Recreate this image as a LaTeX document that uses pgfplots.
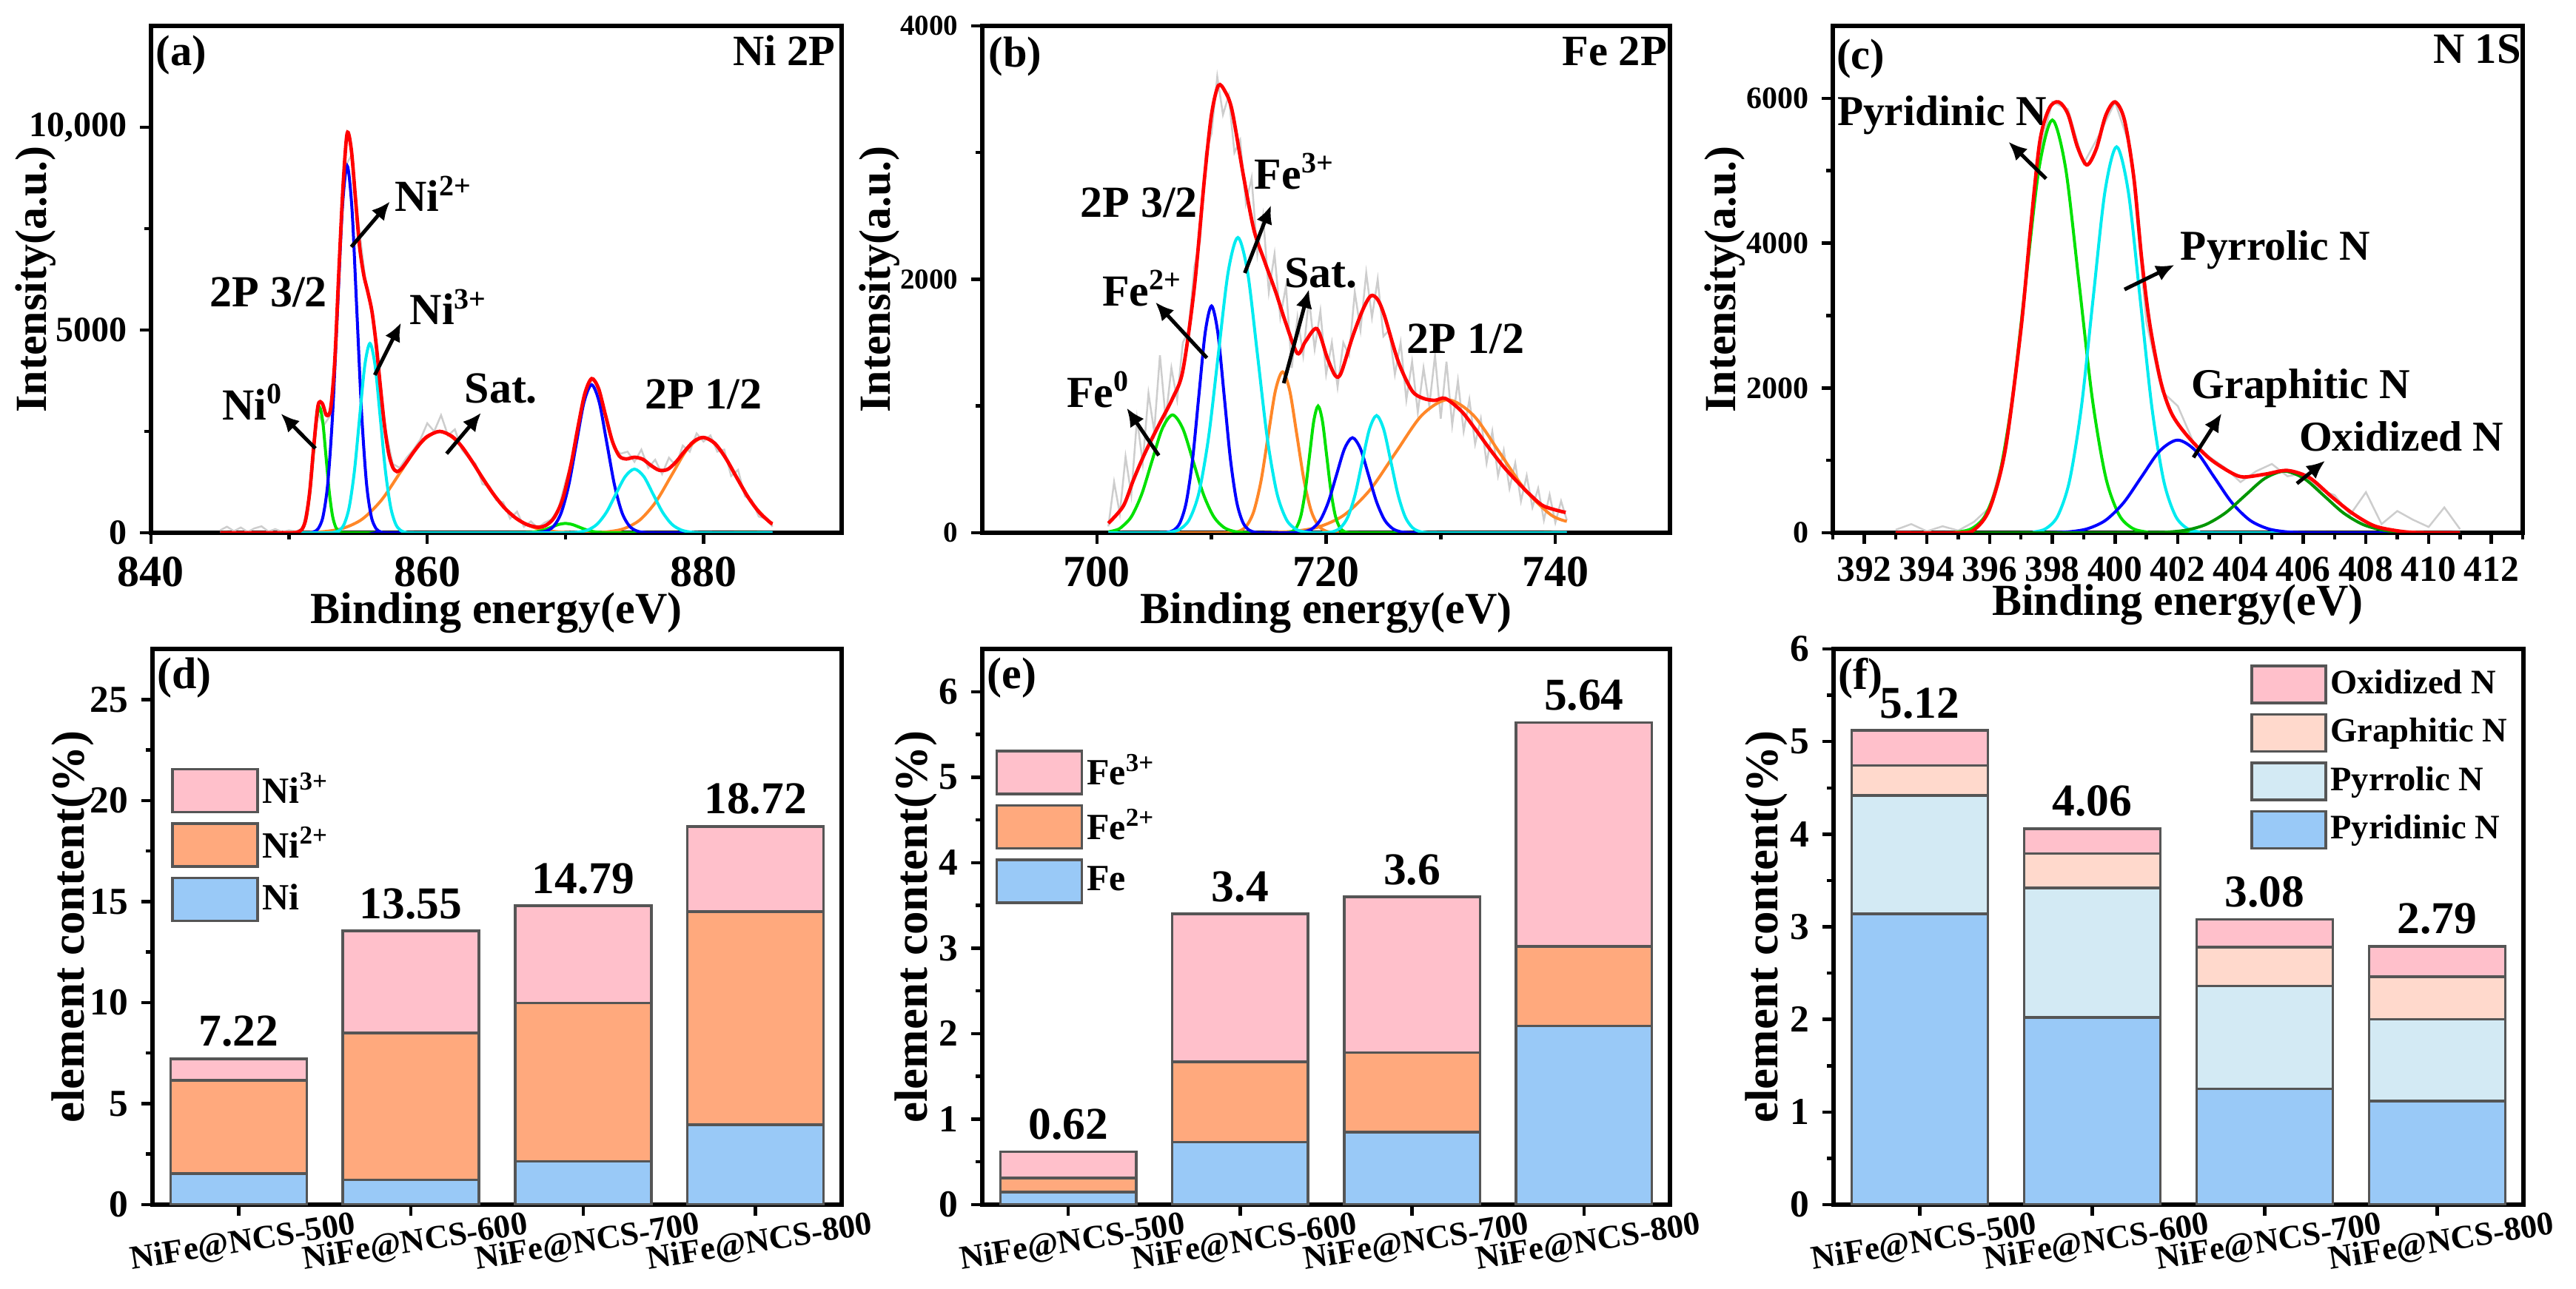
\documentclass[border=0pt]{standalone}
\usepackage{fontspec}
\setmainfont{Liberation Serif}
\usepackage{pgfplots}
\pgfplotsset{compat=1.18}
\usetikzlibrary{arrows.meta}
\definecolor{pR}{RGB}{255,0,0}
\definecolor{pB}{RGB}{0,0,255}
\definecolor{pC}{RGB}{0,235,240}
\definecolor{pG}{RGB}{0,225,0}
\definecolor{pO}{RGB}{255,135,40}
\definecolor{pDG}{RGB}{0,150,0}
\definecolor{pGray}{RGB}{205,205,205}
\definecolor{bBlue}{RGB}{153,201,247}
\definecolor{bOrange}{RGB}{255,169,125}
\definecolor{bPink}{RGB}{255,192,203}
\definecolor{bCyan}{RGB}{211,234,244}
\definecolor{bPeach}{RGB}{255,217,204}
\definecolor{bEdge}{RGB}{85,85,85}
\newcommand{\fs}[1]{\bfseries\fontsize{#1}{#1}\selectfont}
\newcommand{\ann}[4][12]{\node[anchor=base west,inner sep=0pt,font=\fs{#1}] at (axis cs:#2,#3) {#4};}
\newcommand{\annE}[4][12]{\node[anchor=base east,inner sep=0pt,font=\fs{#1}] at (axis cs:#2,#3) {#4};}
\newcommand{\arr}[4]{\draw[-{Latex[length=5pt,width=4.5pt]},line width=1pt] (axis cs:#1,#2) -- (axis cs:#3,#4);}
\pgfplotsset{
  base/.style={scale only axis, anchor=south west,
    axis line style={line width=1.1pt},
    tick align=outside, tick pos=left,
    major tick length=3pt, minor tick length=1.8pt,
    every tick/.style={black,line width=0.9pt},
    scaled ticks=false,
    /pgf/number format/assume math mode=true,
    /pgf/number format/1000 sep={},
    label style={font=\fs{12}}},
  spec/.style={base, height=137pt,
    xlabel={Binding energy(eV)}, ylabel={Intensity(a.u.)},
    xlabel style={at={(axis description cs:0.5,-0.158)},anchor=center},
    xticklabel style={font=\fs{12}}},
  comp/.style={smooth, no marks, line width=0.8pt},
  env/.style={smooth, no marks, line width=0.95pt, pR},
  raw/.style={no marks, line width=0.5pt, pGray},
  bars/.style={base, height=150.2pt, ybar stacked, bar width=0.79,
    xmin=-0.5, xmax=3.5, ymin=0, xtick={0,1,2,3},
    xticklabels={NiFe@NCS-500,NiFe@NCS-600,NiFe@NCS-700,NiFe@NCS-800},
    xticklabel style={rotate=9, anchor=north, font=\fs{9}},
    yticklabel style={font=\fs{10.3}},
    ylabel={element content(\%)}, label style={font=\fs{12.6}},
    every axis plot/.append style={draw=bEdge, line width=0.7pt},
    legend cell align=left, reverse legend,
    legend style={draw=none, fill=none, inner sep=0pt, row sep=2.4pt,
      anchor=north west, nodes={inner sep=1pt}}},
  bigleg/.style={legend style={font=\fs{10}},
    legend image code/.code={\draw[##1,line width=0.7pt] (0pt,-5.8pt) rectangle (23pt,5.8pt);}},
}
\begin{document}
\begin{tikzpicture}
\useasboundingbox (0,0) rectangle (696pt,348.2pt);
%================ (a) Ni 2P
\begin{axis}[spec, at={(40.8pt,204.2pt)}, width=186.6pt,
  xmin=840, xmax=890, ymin=0, ymax=12500,
  xtick={840,860,880}, minor xtick={850,870},
  ytick={0,5000,10000}, yticklabels={0,5000,{10,000}}, minor ytick={2500,7500},
  yticklabel style={font=\fs{9.6}},
  ylabel style={at={(axis description cs:-0.167,0.5)},anchor=center}]
\addplot[raw] coordinates {(845,60)(845.5,150)(846,40)(846.5,130)(847,20)(847.5,110)(848,160)(848.5,30)(849,90)(849.5,20)(850,60)(850.5,30)(851,120)(851.5,1000)(852,3000)(852.5,2650)(853,2900)(853.5,5300)(854,9000)(854.5,9300)(855,7700)(855.5,6300)(856,5500)(856.5,4000)(857,2500)(857.5,1700)(858,1600)(858.5,1850)(859,2050)(859.5,2300)(860,2700)(860.5,2500)(861,2900)(861.5,2400)(862,2550)(862.5,2050)(863,1850)(863.5,1700)(864,1200)(864.5,1150)(865,800)(865.5,750)(866,350)(866.5,520)(867,150)(867.5,280)(868,120)(868.5,250)(869,330)(869.5,600)(870,1250)(870.5,1800)(871,2700)(871.5,3500)(872,3800)(872.5,3450)(873,2800)(873.5,2100)(874,1950)(874.5,2000)(875,1750)(875.5,2050)(876,1600)(876.5,1800)(877,1450)(877.5,1850)(878,1650)(878.5,2150)(879,2000)(879.5,2450)(880,2250)(880.5,2400)(881,2000)(881.5,2050)(882,1400)(882.5,1550)(883,900)(883.5,800)(884,400)(884.5,350)(885,150)};
% orange (Sat.)
\addplot[comp,pO] coordinates {(845,0)(849.5,0)(851.1,5)(852.5,28)(853.9,110)(855.3,338)(856.7,812)(858.1,1516)(859.5,2206)(860.9,2500)(862.3,2206)(863.7,1516)(865.1,812)(866.5,338)(867.9,110)(869.3,28)(870.7,5)(871.95,5)(873.1,26)(874.25,103)(875.4,318)(876.55,763)(877.7,1425)(878.85,2074)(880,2350)(881.15,2074)(882.3,1425)(883.45,763)(884.6,318)(885,222)};
% green (Ni0)
\addplot[comp,pG] coordinates {(845,0)(850.2,0)(850.555,7)(850.79,34)(851.025,136)(851.26,419)(851.495,1007)(851.73,1880)(851.965,2736)(852.2,3100)(852.435,2736)(852.67,1880)(852.905,1007)(853.14,419)(853.375,136)(853.61,34)(853.845,7)(854.2,0)(866.5,0)(867,3)(867.5,10)(868,31)(868.5,75)(869,139)(869.5,203)(870,230)(870.5,203)(871,139)(871.5,75)(872,31)(872.5,10)(873,3)(873.5,0)(885,0)};
% blue (Ni2+)
\addplot[comp,pB] coordinates {(845,0)(851.3,0)(851.75,20)(852.1,100)(852.45,397)(852.8,1224)(853.15,2939)(853.5,5489)(853.85,7987)(854.2,9050)(854.55,7987)(854.9,5489)(855.25,2939)(855.6,1224)(855.95,397)(856.3,100)(856.65,20)(857.1,0)(867.6,0)(868.05,8)(868.6,41)(869.15,160)(869.7,494)(870.25,1185)(870.8,2214)(871.35,3221)(871.9,3650)(872.45,3221)(873,2214)(873.55,1185)(874.1,494)(874.65,160)(875.2,41)(875.75,8)(876.3,0)(885,0)};
% cyan (Ni3+)
\addplot[comp,pC] coordinates {(845,0)(852.8,0)(853.225,10)(853.6,52)(853.975,205)(854.35,632)(854.725,1516)(855.1,2832)(855.475,4121)(855.85,4670)(856.225,4121)(856.6,2832)(856.975,1516)(857.35,632)(857.725,205)(858.1,52)(858.475,10)(858.9,0)(869.7,0)(870.28,3)(870.95,17)(871.63,69)(872.3,212)(872.98,510)(873.65,952)(874.33,1386)(875,1570)(875.68,1386)(876.35,952)(877.03,510)(877.7,212)(878.38,69)(879.05,17)(879.73,3)(880.3,0)(885,0)};
% envelope
\addplot[env] coordinates {(845,0)(849,0)(850,2)(850.5,8)(850.9,71)(851.2,326)(851.5,1036)(851.8,2197)(852.1,3149)(852.4,3188)(852.7,2900)(853,3050)(853.3,4214)(853.6,6443)(853.9,8523)(854.2,9850)(854.5,9450)(854.8,8256)(855.1,7062)(855.4,6365)(855.7,5934)(856,5450)(856.3,4650)(856.6,3622)(856.9,2656)(857.2,1970)(857.5,1616)(857.8,1509)(858.1,1568)(858.5,1742)(859,1985)(859.5,2206)(860,2375)(860.9,2500)(861.8,2375)(862.5,2126)(863.3,1732)(864,1350)(864.8,950)(865.6,610)(866.4,365)(867.2,205)(868,138)(868.6,185)(869.2,380)(869.8,830)(870.4,1670)(870.9,2585)(871.4,3422)(871.9,3801)(872.4,3558)(872.9,2902)(873.4,2257)(873.9,1893)(874.4,1821)(875,1862)(875.6,1813)(876.2,1659)(876.8,1541)(877.4,1563)(878,1743)(878.6,1997)(879.3,2254)(880,2350)(880.8,2211)(881.6,1845)(882.4,1363)(883.2,893)(884,517)(884.8,263)(885,223)};
\ann[11.7]{840.3}{11520}{(a)}
\annE[11.7]{889.6}{11520}{Ni 2P}
\ann{844.2}{5580}{2P 3/2}
\ann{857.6}{7920}{Ni\textsuperscript{2+}}
\ann{858.7}{5130}{Ni\textsuperscript{3+}}
\ann{845.1}{2790}{Ni\textsuperscript{0}}
\ann{862.65}{3200}{Sat.}
\ann{875.7}{3050}{2P 1/2}
\arr{854.5}{7050}{857.3}{8170}
\arr{856.2}{3890}{858.1}{5180}
\arr{851.9}{2080}{849.4}{2940}
\arr{861.4}{1950}{863.9}{2960}
\end{axis}
%================ (b) Fe 2P
\begin{axis}[spec, at={(265.4pt,204.2pt)}, width=185.8pt,
  xmin=690, xmax=750, ymin=0, ymax=4000,
  xtick={700,720,740}, minor xtick={710,730},
  ytick={0,2000,4000}, minor ytick={1000,3000},
  yticklabel style={font=\fs{7.8}},
  ylabel style={at={(axis description cs:-0.150,0.5)},anchor=center}]
\addplot[raw] coordinates {(701,50)(701.5,400)(702,150)(702.5,600)(703,300)(703.5,900)(704,550)(704.5,1100)(705,800)(705.5,1400)(706,900)(706.5,1300)(707,1050)(707.5,1500)(708,1600)(708.5,2100)(709,2300)(709.5,3000)(710,3150)(710.5,3600)(711,3300)(711.5,3450)(712,3000)(712.5,3100)(713,2600)(713.5,2800)(714,2200)(714.5,2500)(715,1900)(715.5,2200)(716,1700)(716.5,1950)(717,1300)(717.5,1700)(718,1400)(718.5,1850)(719,1450)(719.5,1750)(720,1250)(720.5,1500)(721,1150)(721.5,1500)(722,1400)(722.5,1900)(723,1600)(723.5,2050)(724,1700)(724.5,2000)(725,1550)(725.5,1600)(726,1250)(726.5,1500)(727,1050)(727.5,1350)(728,950)(728.5,1300)(729,1000)(729.5,1400)(730,900)(730.5,1350)(731,850)(731.5,1200)(732,800)(732.5,1050)(733,700)(733.5,900)(734,550)(734.5,800)(735,450)(735.5,650)(736,350)(736.5,550)(737,250)(737.5,450)(738,200)(738.5,350)(739,100)(739.5,300)(740,80)(740.5,250)(741,100)};
\addplot[comp,pO] coordinates {(701,0)(711.2,0)(711.825,3)(712.45,14)(713.075,56)(713.7,172)(714.325,412)(714.95,770)(715.575,1121)(716.2,1270)(716.825,1121)(717.45,770)(718.075,412)(718.7,172)(719.325,56)(719.95,14)(720.575,3)(721.2,0)(741,0)};
\addplot[comp,pO] coordinates {(701,0)(712.6,0)(714.85,2)(717.1,11)(719.35,46)(721.6,142)(723.85,341)(726.1,637)(728.35,927)(730.6,1050)(732.85,927)(735.1,637)(737.35,341)(739.6,142)(741,90)};
\addplot[comp,pG] coordinates {(701,7)(701.65,21)(702.1,41)(703,126)(703.9,302)(704.8,564)(705.7,821)(706.6,930)(707.5,821)(708.4,564)(709.3,302)(710.2,126)(711.1,41)(712,10)(712.9,2)(713.6,0)(716.2,0)(716.675,2)(717.05,11)(717.425,44)(717.8,135)(718.175,325)(718.55,607)(718.925,883)(719.3,1000)(719.675,883)(720.05,607)(720.425,325)(720.8,135)(721.175,44)(721.55,11)(721.925,2)(722.4,0)(741,0)};
\addplot[comp,pB] coordinates {(701,0)(705.6,0)(706.15,4)(706.7,20)(707.25,79)(707.8,242)(708.35,581)(708.9,1086)(709.45,1580)(710,1790)(710.55,1580)(711.1,1086)(711.65,581)(712.2,242)(712.75,79)(713.3,20)(713.85,4)(714.4,0)(716.7,0)(717.4,2)(718.1,8)(718.8,33)(719.5,101)(720.2,244)(720.9,455)(721.6,662)(722.3,750)(723,662)(723.7,455)(724.4,244)(725.1,101)(725.8,33)(726.5,8)(727.2,2)(727.9,0)(741,0)};
\addplot[comp,pC] coordinates {(701,0)(705.5,0)(706.35,5)(707.2,26)(708.05,102)(708.9,315)(709.75,757)(710.6,1413)(711.45,2056)(712.3,2330)(713.15,2056)(714,1413)(714.85,757)(715.7,315)(716.55,102)(717.4,26)(718.25,5)(719,0)(719.4,0)(720.025,2)(720.65,10)(721.275,41)(721.9,125)(722.525,300)(723.15,561)(723.775,816)(724.4,925)(725.025,816)(725.65,561)(726.275,300)(726.9,125)(727.525,41)(728.15,10)(728.775,2)(729.4,0)(741,0)};
\addplot[env] coordinates {(701,75)(702.3,210)(703.2,420)(704.2,630)(705.4,850)(706.6,1060)(707.5,1280)(708.5,1935)(709.4,2810)(710,3300)(710.6,3530)(711.2,3480)(711.8,3330)(712.8,2810)(713.7,2390)(714.6,2150)(715.6,1900)(716.5,1650)(717.5,1415)(718.2,1510)(719.2,1610)(720.1,1380)(720.8,1240)(721.3,1260)(722.3,1545)(723.2,1760)(723.9,1870)(724.5,1840)(725.1,1710)(726.3,1350)(727.5,1120)(728.5,1060)(729.5,1045)(730.4,1060)(731.8,960)(733,820)(734.2,670)(735.4,530)(736.6,410)(737.8,300)(739,210)(740.9,160)};
\ann[11.7]{690.5}{3675}{(b)}
\annE[11.7]{749.8}{3690}{Fe 2P}
\ann{698.5}{2490}{2P 3/2}
\ann{713.7}{2715}{Fe\textsuperscript{3+}}
\ann{700.4}{1790}{Fe\textsuperscript{2+}}
\ann{697.3}{990}{Fe\textsuperscript{0}}
\ann{716.3}{1935}{Sat.}
\ann{727}{1415}{2P 1/2}
\arr{712.9}{2050}{715.2}{2585}
\arr{709.6}{1380}{705.1}{1820}
\arr{705.4}{610}{702.6}{985}
\arr{716.3}{1180}{718.5}{1920}
\end{axis}
%================ (c) N 1S
\begin{axis}[spec, at={(495.2pt,204.2pt)}, width=186.4pt,
  xmin=391, xmax=413, ymin=0, ymax=7000,
  xtick={392,394,...,412}, minor xtick={391,393,...,413},
  ytick={0,2000,4000,6000}, minor ytick={1000,3000,5000},
  xticklabel style={font=\fs{9.9}},
  yticklabel style={font=\fs{8.4}},
  xlabel style={at={(axis description cs:0.5,-0.142)},anchor=center},
  ylabel style={at={(axis description cs:-0.156,0.5)},anchor=center}]
\addplot[raw] coordinates {(393,40)(393.5,120)(394,20)(394.5,90)(395,30)(395.5,150)(396,350)(396.5,1150)(397,2800)(397.5,5100)(398,5950)(398.5,5850)(399,5100)(399.5,5500)(400,5950)(400.5,5300)(401,2900)(401.5,1950)(402,1750)(402.5,1250)(403,1050)(403.5,900)(404,700)(404.5,850)(405,950)(405.5,780)(406,820)(406.5,600)(407,520)(407.5,250)(408,560)(408.5,120)(409,300)(409.5,180)(410,80)(410.5,350)(411,50)};
\addplot[comp,pG] coordinates {(393,0)(394.6,0)(395.025,13)(395.45,63)(395.875,250)(396.3,771)(396.725,1851)(397.15,3457)(397.575,5030)(398,5700)(398.425,5030)(398.85,3457)(399.275,1851)(399.7,771)(400.125,250)(400.55,63)(400.975,13)(401.4,0)(411,0)};
\addplot[comp,pC] coordinates {(393,0)(397,0)(397.425,12)(397.8,59)(398.175,234)(398.55,721)(398.925,1731)(399.3,3233)(399.675,4704)(400.05,5330)(400.425,4704)(400.8,3233)(401.175,1731)(401.55,721)(401.925,234)(402.3,59)(402.675,12)(403.1,0)(411,0)};
\addplot[comp,pB] coordinates {(393,0)(397.4,0)(397.975,3)(398.55,14)(399.125,56)(399.7,173)(400.275,416)(400.85,776)(401.425,1130)(402,1280)(402.575,1130)(403.15,776)(403.725,416)(404.3,173)(404.875,56)(405.45,14)(406.025,3)(406.6,0)(411,0)};
\addplot[comp,pDG] coordinates {(393,0)(400.4,0)(401.025,2)(401.65,9)(402.275,37)(402.9,115)(403.525,276)(404.15,516)(404.775,750)(405.4,850)(406.025,750)(406.65,516)(407.275,276)(407.9,115)(408.525,37)(409.15,9)(409.775,2)(410.4,0)(411,0)};
\addplot[env] coordinates {(393,0)(395,0)(395.5,40)(396,330)(396.5,1150)(397,2815)(397.3,4180)(397.6,5400)(397.9,5860)(398.2,5950)(398.5,5780)(398.8,5330)(399.1,5080)(399.4,5300)(399.7,5760)(400,5950)(400.3,5700)(400.6,4900)(400.85,3780)(401.1,2900)(401.45,2100)(401.8,1650)(402.3,1340)(403,1030)(403.7,830)(404.1,770)(404.8,810)(405.5,860)(406.2,760)(406.9,500)(407.6,260)(408.3,90)(409.2,15)(410,0)(411,0)};
\ann[11.7]{391.1}{6400}{(c)}
\annE[11.7]{412.97}{6485}{N 1S}
\ann[11.5]{391.12}{5630}{Pyridinic N}
\ann[11.5]{402.07}{3770}{Pyrrolic N}
\ann[11.5]{402.42}{1850}{Graphitic N}
\ann[11.5]{405.85}{1125}{Oxidized N}
\arr{397.8}{4890}{396.6}{5400}
\arr{400.3}{3360}{401.9}{3700}
\arr{402.5}{1040}{403.4}{1650}
\arr{405.8}{680}{406.7}{995}
\end{axis}
%================ (d)
\begin{axis}[bars, bigleg, at={(41.2pt,22.6pt)}, width=186.2pt, ymax=27.5,
  ytick={0,5,...,25}, minor ytick={2.5,7.5,...,22.5},
  ylabel style={at={(axis description cs:-0.116,0.5)},anchor=center},
  legend style={at={(axis description cs:0.026,0.787)}}]
\addplot[fill=bBlue] coordinates {(0,1.53)(1,1.22)(2,2.14)(3,3.95)};
\addplot[fill=bOrange] coordinates {(0,4.62)(1,7.28)(2,7.84)(3,10.55)};
\addplot[fill=bPink] coordinates {(0,1.07)(1,5.05)(2,4.81)(3,4.22)};
\legend{Ni,Ni\textsuperscript{2+},Ni\textsuperscript{3+}}
\node[anchor=south,inner sep=0pt,font=\fs{12.3}] at (axis cs:0,7.22) [yshift=3pt] {7.22};
\node[anchor=south,inner sep=0pt,font=\fs{12.3}] at (axis cs:1,13.55) [yshift=3pt] {13.55};
\node[anchor=south,inner sep=0pt,font=\fs{12.3}] at (axis cs:2,14.79) [yshift=3pt] {14.79};
\node[anchor=south,inner sep=0pt,font=\fs{12.3}] at (axis cs:3,18.72) [yshift=3pt] {18.72};
\node[anchor=north west,inner sep=0pt,font=\fs{12}] at (axis description cs:0.006,0.985) {(d)};
\end{axis}
%================ (e)
\begin{axis}[bars, bigleg, at={(265.4pt,22.6pt)}, width=185.8pt, ymax=6.5,
  ytick={0,1,...,6}, minor ytick={0.5,1.5,...,5.5},
  ylabel style={at={(axis description cs:-0.096,0.5)},anchor=center},
  legend style={at={(axis description cs:0.018,0.82)}}]
\addplot[fill=bBlue] coordinates {(0,0.145)(1,0.73)(2,0.85)(3,2.09)};
\addplot[fill=bOrange] coordinates {(0,0.165)(1,0.94)(2,0.93)(3,0.93)};
\addplot[fill=bPink] coordinates {(0,0.31)(1,1.73)(2,1.82)(3,2.62)};
\legend{Fe,Fe\textsuperscript{2+},Fe\textsuperscript{3+}}
\node[anchor=south,inner sep=0pt,font=\fs{12.3}] at (axis cs:0,0.62) [yshift=3pt] {0.62};
\node[anchor=south,inner sep=0pt,font=\fs{12.3}] at (axis cs:1,3.4) [yshift=3pt] {3.4};
\node[anchor=south,inner sep=0pt,font=\fs{12.3}] at (axis cs:2,3.6) [yshift=3pt] {3.6};
\node[anchor=south,inner sep=0pt,font=\fs{12.3}] at (axis cs:3,5.64) [yshift=3pt] {5.64};
\node[anchor=north west,inner sep=0pt,font=\fs{12}] at (axis description cs:0.006,0.985) {(e)};
\end{axis}
%================ (f)
\begin{axis}[bars, at={(495.4pt,22.6pt)}, width=186.4pt, ymax=6,
  ytick={0,1,...,6}, minor ytick={0.5,1.5,...,5.5},
  ylabel style={at={(axis description cs:-0.097,0.5)},anchor=center},
  legend style={at={(axis description cs:0.603,0.973)}, font=\fs{9.3}},
  legend image code/.code={\draw[#1,line width=0.7pt] (0pt,-5pt) rectangle (20pt,5pt);}]
\addplot[fill=bBlue] coordinates {(0,3.14)(1,2.02)(2,1.25)(3,1.12)};
\addplot[fill=bCyan] coordinates {(0,1.28)(1,1.40)(2,1.11)(3,0.88)};
\addplot[fill=bPeach] coordinates {(0,0.32)(1,0.37)(2,0.42)(3,0.46)};
\addplot[fill=bPink] coordinates {(0,0.38)(1,0.27)(2,0.30)(3,0.33)};
\legend{Pyridinic N,Pyrrolic N,Graphitic N,Oxidized N}
\node[anchor=south,inner sep=0pt,font=\fs{12.3}] at (axis cs:0,5.12) [yshift=3pt] {5.12};
\node[anchor=south,inner sep=0pt,font=\fs{12.3}] at (axis cs:1,4.06) [yshift=3pt] {4.06};
\node[anchor=south,inner sep=0pt,font=\fs{12.3}] at (axis cs:2,3.08) [yshift=3pt] {3.08};
\node[anchor=south,inner sep=0pt,font=\fs{12.3}] at (axis cs:3,2.79) [yshift=3pt] {2.79};
\node[anchor=north west,inner sep=0pt,font=\fs{12}] at (axis description cs:0.006,0.985) {(f)};
\end{axis}
\end{tikzpicture}
\end{document}
